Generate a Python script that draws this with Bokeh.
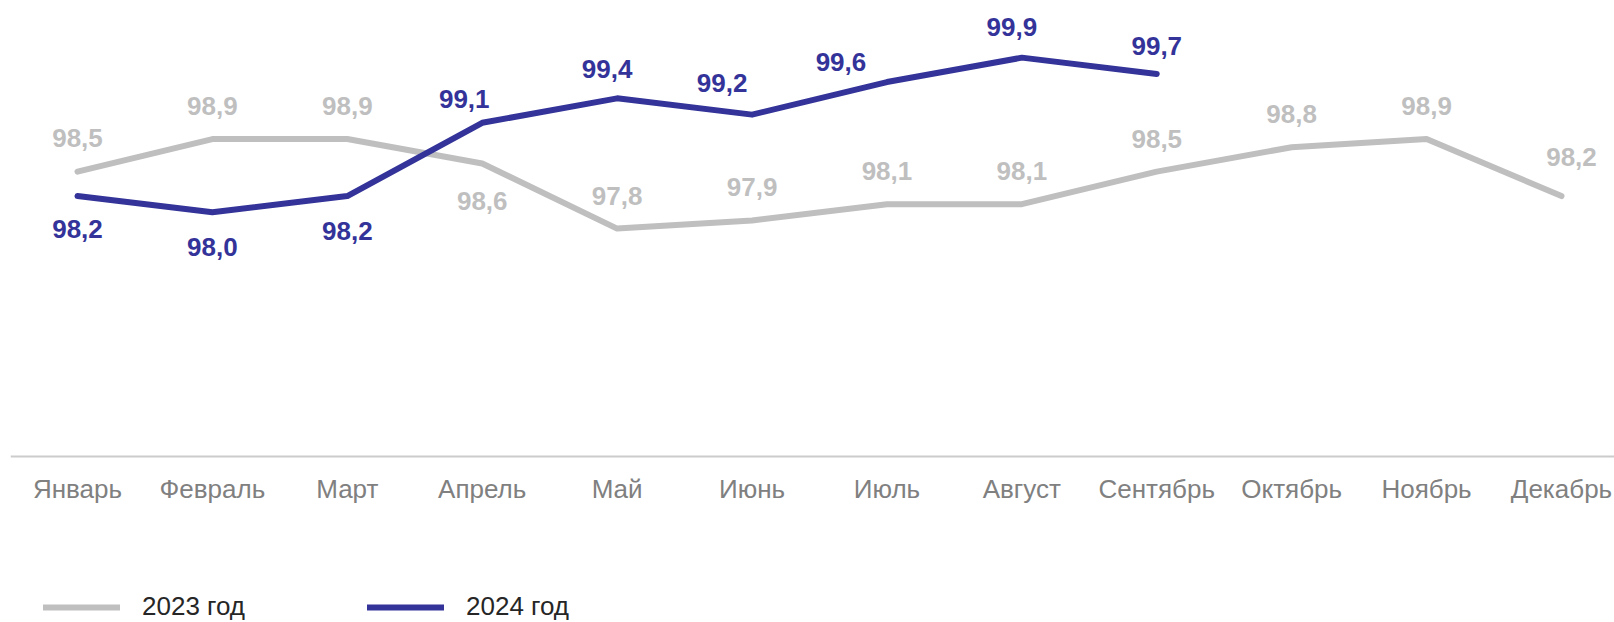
from bokeh.plotting import figure
from bokeh.models import ColumnDataSource, Range1d, FixedTicker, Legend, LegendItem
from bokeh.core.properties import value
from bokeh.embed import file_html
from bokeh.resources import INLINE

# ---- data ----
months = ["Январь", "Февраль", "Март", "Апрель", "Май", "Июнь",
          "Июль", "Август", "Сентябрь", "Октябрь", "Ноябрь", "Декабрь"]
values_2023 = [98.5, 98.9, 98.9, 98.6, 97.8, 97.9, 98.1, 98.1, 98.5, 98.8, 98.9, 98.2]
values_2024 = [98.2, 98.0, 98.2, 99.1, 99.4, 99.2, 99.6, 99.9, 99.7]
series_names = ["2023 год", "2024 год"]
axis_base = 95.0

# ---- layout of the value labels (screen-pixel offsets) ----
dx_2023 = [0, 0, 0, 0, 0, 0, 0, 0, 0, 0, 0, 10]
dy_2023 = [-34, -33, -33, 38, -33, -33, -33, -33, -33, -33, -33, -39]
dx_2024 = [0, 0, 0, -18, -10, -30, -46, -10, 0]
dy_2024 = [33, 35, 35, -24, -29, -32, -20, -31, -28]

GREY = "#BFBFBF"
BLUE = "#333399"
FONT = value("Liberation Sans")


def fmt(v):
    return f"{v:.1f}".replace(".", ",")


src23 = ColumnDataSource(dict(
    x=list(range(len(values_2023))), y=values_2023,
    label=[fmt(v) for v in values_2023], dx=dx_2023, dy=dy_2023))
src24 = ColumnDataSource(dict(
    x=list(range(len(values_2024))), y=values_2024,
    label=[fmt(v) for v in values_2024], dx=dx_2024, dy=dy_2024))

p = figure(width=1614, height=622, output_backend="svg", toolbar_location=None,
           x_range=Range1d(-0.4966, 11.393), y_range=Range1d(92.961, 100.602),
           y_axis_location=None, min_border_left=10, min_border_right=0,
           min_border_top=0, min_border_bottom=0)
p.outline_line_color = None
p.xgrid.visible = False
p.ygrid.visible = False
p.background_fill_color = "white"
p.border_fill_color = "white"

r23 = p.line("x", "y", source=src23, line_color=GREY, line_width=6,
             line_join="round", line_cap="round")
r24 = p.line("x", "y", source=src24, line_color=BLUE, line_width=6,
             line_join="round", line_cap="round")

p.text("x", "y", text="label", x_offset="dx", y_offset="dy", source=src23,
       text_align="center", text_baseline="middle", text_font=FONT,
       text_font_style="bold", text_font_size="26px", text_color=GREY)
p.text("x", "y", text="label", x_offset="dx", y_offset="dy", source=src24,
       text_align="center", text_baseline="middle", text_font=FONT,
       text_font_style="bold", text_font_size="26px", text_color=BLUE)

ax = p.xaxis[0]
ax.fixed_location = axis_base
ax.ticker = FixedTicker(ticks=list(range(len(months))))
ax.major_label_overrides = {i: m for i, m in enumerate(months)}
ax.axis_line_color = "#CCCCCC"
ax.axis_line_width = 2
ax.major_tick_line_color = None
ax.minor_tick_line_color = None
ax.major_tick_out = 0
ax.major_tick_in = 0
ax.major_label_standoff = 17
ax.major_label_text_font = "Liberation Sans"
ax.major_label_text_font_size = "26px"
ax.major_label_text_color = "#808080"

legend = Legend(items=[LegendItem(label=series_names[0], renderers=[r23]),
                       LegendItem(label=series_names[1], renderers=[r24])],
                location=(33, 0), orientation="horizontal",
                glyph_width=77, glyph_height=28, label_height=28, label_width=200,
                label_standoff=22, spacing=25, padding=0, margin=0,
                border_line_color=None, background_fill_alpha=0,
                label_text_font="Liberation Sans", label_text_font_size="26px",
                label_text_color="#262626")
p.add_layout(legend)

open("out.html", "w").write(file_html(p, INLINE))
